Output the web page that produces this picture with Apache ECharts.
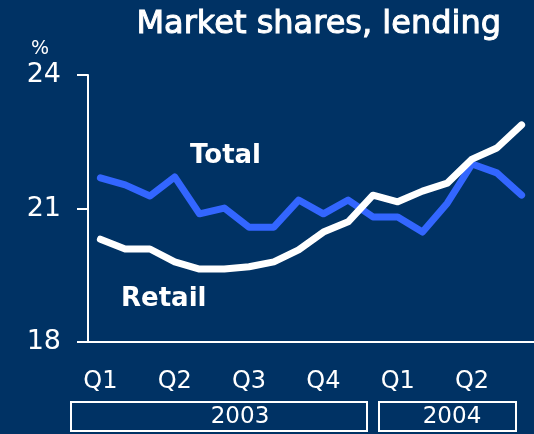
<!DOCTYPE html>
<html>
<head>
<meta charset="utf-8">
<script src="https://cdn.jsdelivr.net/npm/echarts@6/dist/echarts.min.js"></script>
<style>
  html, body { margin: 0; padding: 0; background: #003264; }
  #chart { width: 534px; height: 434px; }
</style>
</head>
<body>
<div id="chart"></div>
<script>
var months = ['Jan 03', 'Feb 03', 'Mar 03', 'Apr 03', 'May 03', 'Jun 03', 'Jul 03', 'Aug 03', 'Sep 03',
              'Oct 03', 'Nov 03', 'Dec 03', 'Jan 04', 'Feb 04', 'Mar 04', 'Apr 04', 'May 04', 'Jun 04'];
var quarterLabels = ['Q1', 'Q2', 'Q3', 'Q4', 'Q1', 'Q2'];
var totalShare = [21.69, 21.53, 21.28, 21.71, 20.88, 21.01, 20.58, 20.58, 21.19,
                  20.88, 21.19, 20.81, 20.81, 20.47, 21.12, 22.0, 21.8, 21.3];
var retailShare = [20.31, 20.09, 20.09, 19.8, 19.64, 19.64, 19.69, 19.8, 20.07,
                   20.47, 20.7, 21.3, 21.15, 21.39, 21.57, 22.11, 22.36, 22.88];
var years = ['2003', '2004'];

var font = 'DejaVu Sans';
var chart = echarts.init(document.getElementById('chart'));
var option = {
    backgroundColor: '#003264',
    animation: false,
    title: {
        text: 'Market shares, lending',
        right: 27,
        top: 4,
        textStyle: {
            color: '#fff', fontSize: 32, fontWeight: 'normal', fontFamily: font,
            textBorderColor: '#fff', textBorderWidth: 1
        }
    },
    grid: { left: 88, top: 75, bottom: 92, right: -8 },
    xAxis: {
        type: 'category',
        data: months,
        boundaryGap: true,
        axisLine: { lineStyle: { color: '#fff', width: 2 } },
        axisTick: { show: false },
        axisLabel: {
            interval: 0,
            margin: 28,
            color: '#fff',
            fontSize: 24,
            fontFamily: font,
            formatter: function (v, i) {
                return i % 3 === 0 ? quarterLabels[i / 3] : '';
            }
        }
    },
    yAxis: {
        type: 'value',
        min: 18,
        max: 24,
        interval: 3,
        splitLine: { show: false },
        axisLine: { show: true, lineStyle: { color: '#fff', width: 2 } },
        axisTick: { show: true, length: 11, lineStyle: { color: '#fff', width: 2 } },
        axisLabel: { color: '#fff', fontSize: 27, fontFamily: font, margin: 27 }
    },
    series: [
        {
            name: 'Total',
            type: 'line',
            data: totalShare,
            symbol: 'none',
            lineStyle: { color: '#3366ff', width: 7, cap: 'round', join: 'round' }
        },
        {
            name: 'Retail',
            type: 'line',
            data: retailShare,
            symbol: 'none',
            lineStyle: { color: '#fff', width: 7, cap: 'round', join: 'round' }
        }
    ],
    graphic: [
        { type: 'text', left: 31, top: 40, style: { text: '%', fill: '#fff', fontSize: 19, fontFamily: font } },
        { type: 'text', left: 190, top: 143, style: { text: 'Total', fill: '#fff', fontSize: 26, fontWeight: 'bold', fontFamily: font } },
        { type: 'text', left: 121, top: 286, style: { text: 'Retail', fill: '#fff', fontSize: 26, fontWeight: 'bold', fontFamily: font } },
        { type: 'rect', shape: { x: 71, y: 402, width: 296, height: 29 }, style: { fill: 'none', stroke: '#fff', lineWidth: 2 } },
        { type: 'rect', shape: { x: 379, y: 402, width: 137, height: 29 }, style: { fill: 'none', stroke: '#fff', lineWidth: 2 } },
        { type: 'text', x: 240, y: 417, style: { text: years[0], fill: '#fff', fontSize: 23, fontFamily: font, align: 'center', verticalAlign: 'middle' } },
        { type: 'text', x: 452, y: 417, style: { text: years[1], fill: '#fff', fontSize: 23, fontFamily: font, align: 'center', verticalAlign: 'middle' } }
    ]
};
chart.setOption(option);
</script>
</body>
</html>
